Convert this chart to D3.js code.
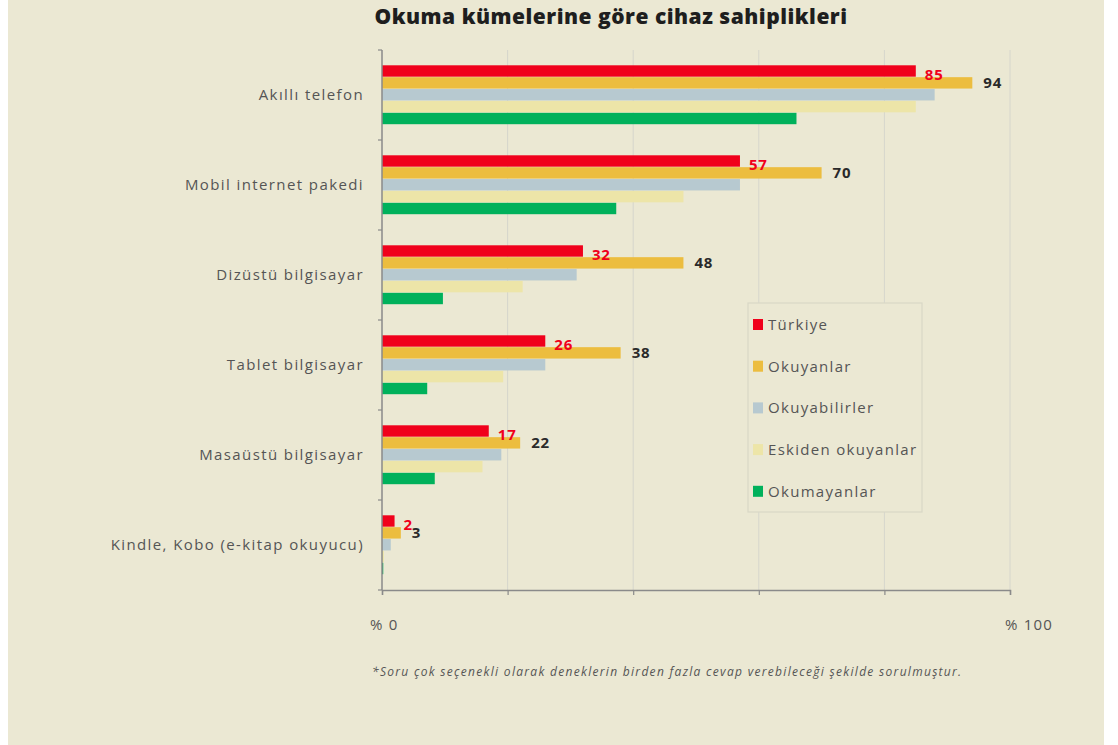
<!DOCTYPE html>
<html lang="tr">
<head>
  <meta charset="UTF-8">
  <title>Okuma kümelerine göre cihaz sahiplikleri</title>
  <script src="https://d3js.org/d3.v7.min.js"></script>
  <style>
    body { margin: 0; background: #ffffff; }
    svg { display: block; }
    text { font-family: "Open Sans", sans-serif; }
  </style>
</head>
<body>
  <svg></svg>
  <script>

    // veriler
    const categories = ['Akıllı telefon', 'Mobil internet pakedi', 'Dizüstü bilgisayar',
      'Tablet bilgisayar', 'Masaüstü bilgisayar', 'Kindle, Kobo (e-kitap okuyucu)'];
    const seriesNames = ['Türkiye', 'Okuyanlar', 'Okuyabilirler', 'Eskiden okuyanlar', 'Okumayanlar'];
    const turkiye = [85, 57, 32, 26, 17, 2];
    const okuyanlar = [94, 70, 48, 38, 22, 3];
    const okuyabilirler = [88, 57, 31, 26, 19, 1.4];
    const eskiden = [85, 48, 22.4, 19.3, 16, 0.3];
    const okumayanlar = [66, 37.3, 9.7, 7.2, 8.4, 0.2];
    const xTicks = [0, 20, 40, 60, 80, 100];
    const colors = ['#f0001b', '#ecbd3f', '#b7c9d0', '#ede5a8', '#00b15b'];

    const seriesValues = [turkiye, okuyanlar, okuyabilirler, eskiden, okumayanlar];

    const W = 1118, H = 745;
    const svg = d3.select('svg').attr('width', W).attr('height', H);

    // arka plan
    svg.append('rect').attr('x', 8).attr('y', 0).attr('width', 1096).attr('height', H)
      .attr('fill', '#ebe8d3');

    const mLeft = 382, mTop = 50, plotW = 628, plotH = 540;

    const x = d3.scaleLinear().domain([0, 100]).range([mLeft, mLeft + plotW]);
    const y = d3.scaleBand().domain(categories).range([mTop, mTop + plotH])
      .paddingInner(0.34).paddingOuter(0.17);
    const ys = d3.scaleBand().domain(seriesNames).range([0, y.bandwidth()]).padding(0);

    // baslik
    svg.append('text')
      .attr('x', 611).attr('y', 24)
      .attr('text-anchor', 'middle')
      .attr('font-size', 21).attr('font-weight', 800).attr('fill', '#1e1e1e')
      .attr('letter-spacing', 0.5)
      .text('Okuma kümelerine göre cihaz sahiplikleri');

    // izgara
    svg.append('g').selectAll('line')
      .data(xTicks.slice(1))
      .join('line')
      .attr('x1', d => x(d)).attr('x2', d => x(d))
      .attr('y1', mTop).attr('y2', mTop + plotH)
      .attr('stroke', '#d6d6cc').attr('stroke-width', 1);

    // cubuklar
    const groups = svg.append('g').selectAll('g')
      .data(categories)
      .join('g')
      .attr('transform', d => `translate(0, ${y(d)})`);

    groups.selectAll('rect')
      .data((c, i) => seriesNames.map((s, j) => ({ s, v: seriesValues[j][i], j })))
      .join('rect')
      .attr('x', x(0))
      .attr('y', d => ys(d.s))
      .attr('width', d => x(d.v) - x(0))
      .attr('height', ys.bandwidth() - 0.5)
      .attr('fill', d => colors[d.j]);

    // deger etiketleri
    groups.append('text')
      .attr('x', (c, i) => x(turkiye[i]) + 9)
      .attr('y', ys('Türkiye') + ys.bandwidth() + 3)
      .attr('font-size', 15).attr('font-weight', 700).attr('fill', '#f0001b')
      .attr('letter-spacing', 0.8)
      .text((c, i) => turkiye[i]);

    groups.append('text')
      .attr('x', (c, i) => x(okuyanlar[i]) + 11)
      .attr('y', ys('Okuyanlar') + ys.bandwidth() / 2 + 5)
      .attr('font-size', 15).attr('font-weight', 700).attr('fill', '#2a2a2a')
      .attr('letter-spacing', 0.8)
      .text((c, i) => okuyanlar[i]);

    // eksenler
    const yAxis = svg.append('g').attr('transform', `translate(${mLeft}, 0)`);
    yAxis.append('line').attr('y1', mTop).attr('y2', mTop + plotH).attr('stroke', '#8a8a8a').attr('stroke-width', 1.5);
    yAxis.selectAll('.tk')
      .data(d3.range(categories.length + 1))
      .join('line')
      .attr('x1', -4).attr('x2', 0)
      .attr('y1', i => mTop + i * y.step()).attr('y2', i => mTop + i * y.step())
      .attr('stroke', '#8a8a8a').attr('stroke-width', 1.2);

    svg.append('g').selectAll('text')
      .data(categories)
      .join('text')
      .attr('x', mLeft - 18)
      .attr('y', d => y(d) + y.bandwidth() / 2 + 5)
      .attr('text-anchor', 'end')
      .attr('font-size', 15).attr('fill', '#555555')
      .attr('letter-spacing', 1.4)
      .text(d => d);

    const xAxis = d3.axisBottom(x).tickValues(xTicks).tickSize(5).tickFormat('');
    const xg = svg.append('g').attr('transform', `translate(0, ${mTop + plotH})`).call(xAxis);
    xg.select('.domain').attr('stroke', '#8a8a8a').attr('stroke-width', 1.5);
    xg.selectAll('.tick line').attr('stroke', '#8a8a8a').attr('stroke-width', 1.2);

    svg.append('text').attr('x', x(0) - 12).attr('y', mTop + plotH + 40)
      .attr('font-size', 15).attr('fill', '#555').attr('letter-spacing', 1.2)
      .text('% 0');
    svg.append('text').attr('x', x(100) - 5).attr('y', mTop + plotH + 40)
      .attr('font-size', 15).attr('fill', '#555').attr('letter-spacing', 1.2)
      .text('% 100');

    // lejant
    const lg = svg.append('g').attr('transform', 'translate(748, 303)');
    lg.append('rect').attr('width', 174).attr('height', 209)
      .attr('fill', '#ebe8d3').attr('stroke', '#d9d7c6').attr('stroke-width', 1.2);
    const items = lg.selectAll('g.item')
      .data(seriesNames)
      .join('g')
      .attr('transform', (d, i) => `translate(5, ${22 + i * 41.7})`);
    items.append('rect').attr('x', 0).attr('y', -6).attr('width', 10).attr('height', 11)
      .attr('fill', (d, i) => colors[i]);
    items.append('text').attr('x', 15).attr('y', 5)
      .attr('font-size', 15).attr('fill', '#555555')
      .attr('letter-spacing', 1.3)
      .text(d => d);

    // dipnot
    svg.append('text')
      .attr('x', 372).attr('y', 676)
      .attr('font-size', 12).attr('font-style', 'italic').attr('fill', '#555')
      .attr('letter-spacing', 1.3)
      .text('*Soru çok seçenekli olarak deneklerin birden fazla cevap verebileceği şekilde sorulmuştur.');

  </script>
</body>
</html>
